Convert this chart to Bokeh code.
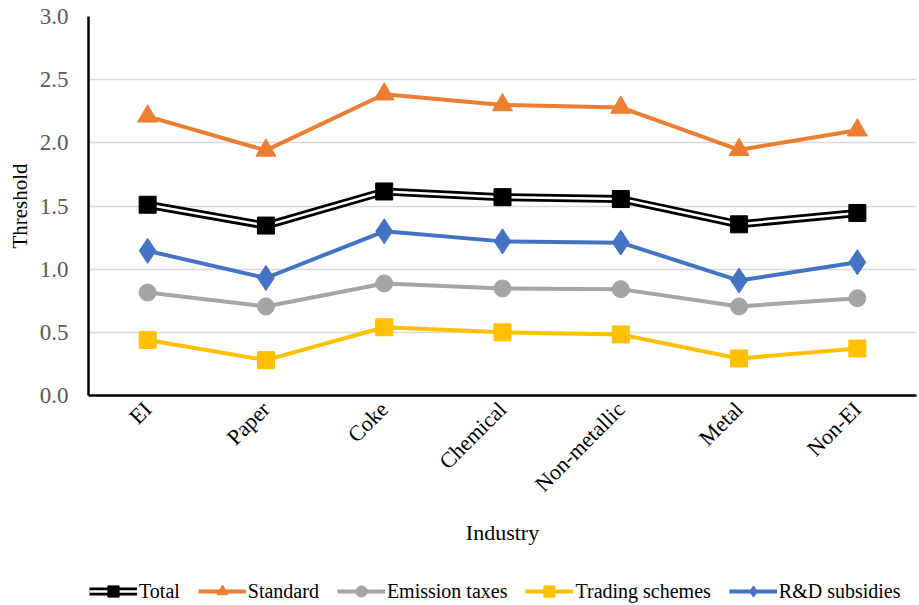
import math
from bokeh.plotting import figure
from bokeh.layouts import column
from bokeh.models import Legend, LegendItem, FixedTicker, Range1d, CustomJSTickFormatter
from bokeh.embed import file_html
from bokeh.resources import INLINE

industries = ["EI", "Paper", "Coke", "Chemical", "Non-metallic", "Metal", "Non-EI"]
total = [1.51, 1.345, 1.615, 1.57, 1.555, 1.355, 1.445]
standard = [2.21, 1.94, 2.385, 2.30, 2.28, 1.945, 2.10]
emission_taxes = [0.815, 0.705, 0.887, 0.847, 0.842, 0.705, 0.77]
trading_schemes = [0.44, 0.28, 0.54, 0.50, 0.483, 0.293, 0.372]
rd_subsidies = [1.145, 0.93, 1.30, 1.22, 1.21, 0.91, 1.055]
y_ticks = [0.0, 0.5, 1.0, 1.5, 2.0, 2.5, 3.0]

FONT = "Liberation Serif"

p = figure(x_range=industries, frame_width=828, frame_height=379, output_backend="svg",
           toolbar_location=None, min_border_left=88, min_border_right=3,
           min_border_top=16, min_border_bottom=170)
p.y_range = Range1d(0, 3.0)
p.outline_line_color = None
p.background_fill_color = "white"

p.xgrid.grid_line_color = None
p.ygrid.grid_line_color = "#d9d9d9"
p.ygrid.grid_line_width = 1.3

p.yaxis.ticker = FixedTicker(ticks=y_ticks)
p.yaxis.formatter = CustomJSTickFormatter(code="return tick.toFixed(1);")
p.yaxis.major_tick_line_color = None
p.yaxis.major_tick_out = 0
p.yaxis.major_tick_in = 0
p.yaxis.minor_tick_line_color = None
p.yaxis.axis_line_color = "black"
p.yaxis.axis_line_width = 2.5
p.yaxis.major_label_text_font = FONT
p.yaxis.major_label_text_font_size = "23px"
p.yaxis.major_label_text_color = "#595959"
p.yaxis.major_label_standoff = 20
p.yaxis.axis_label = "Threshold"
p.yaxis.axis_label_text_font = FONT
p.yaxis.axis_label_text_font_size = "21px"
p.yaxis.axis_label_text_font_style = "normal"
p.yaxis.axis_label_text_color = "black"
p.yaxis.axis_label_standoff = 5

p.xaxis.major_tick_line_color = None
p.xaxis.major_tick_out = 0
p.xaxis.major_tick_in = 0
p.xaxis.minor_tick_line_color = None
p.xaxis.axis_line_color = "black"
p.xaxis.axis_line_width = 2.5
p.xaxis.major_label_orientation = math.pi / 4
p.xaxis.major_label_text_font = FONT
p.xaxis.major_label_text_font_size = "22px"
p.xaxis.major_label_text_color = "black"
p.xaxis.major_label_standoff = 10
p.xaxis.axis_label = "Industry"
p.xaxis.axis_label_text_font = FONT
p.xaxis.axis_label_text_font_size = "22px"
p.xaxis.axis_label_text_font_style = "normal"
p.xaxis.axis_label_text_color = "black"
p.xaxis.axis_label_standoff = 12


def draw(fig):
    x = industries
    s_l = fig.line(x, standard, line_color="#ED7D31", line_width=4)
    s_m = fig.scatter(x, standard, marker="triangle", size=20, fill_color="#ED7D31", line_color="#ED7D31")
    t_o = fig.line(x, total, line_color="black", line_width=8)
    t_i = fig.line(x, total, line_color="white", line_width=2.5)
    t_m = fig.scatter(x, total, marker="square", size=17, fill_color="black", line_color="black")
    r_l = fig.line(x, rd_subsidies, line_color="#4472C4", line_width=4)
    r_m = fig.scatter(x, rd_subsidies, marker="diamond", size=25, fill_color="#4472C4", line_color="#4472C4")
    e_l = fig.line(x, emission_taxes, line_color="#A5A5A5", line_width=4)
    e_m = fig.scatter(x, emission_taxes, marker="circle", size=17, fill_color="#A5A5A5", line_color="#A5A5A5")
    tr_l = fig.line(x, trading_schemes, line_color="#FFC000", line_width=4)
    tr_m = fig.scatter(x, trading_schemes, marker="square", size=17, fill_color="#FFC000", line_color="#FFC000")
    return [
        ("Total", [t_o, t_i, t_m]),
        ("Standard", [s_l, s_m]),
        ("Emission taxes", [e_l, e_m]),
        ("Trading schemes", [tr_l, tr_m]),
        ("R&D subsidies", [r_l, r_m]),
    ]


draw(p)

# Legend strip below the chart (its frame is aligned with the chart's frame)
lg = figure(x_range=industries, width=919, height=40, output_backend="svg",
            toolbar_location=None, min_border=0, min_border_left=0,
            min_border_right=0, x_axis_location=None, y_axis_location=None)
lg.y_range = Range1d(100, 101)
lg.outline_line_color = None
lg.xgrid.grid_line_color = None
lg.ygrid.grid_line_color = None
items = draw(lg)

legend = Legend(items=[LegendItem(label=l, renderers=r) for l, r in items],
                orientation="horizontal", location=(1, 0))
legend.label_text_font = FONT
legend.label_text_font_size = "20px"
legend.label_text_color = "black"
legend.glyph_width = 48
legend.glyph_height = 28
legend.label_standoff = 2
legend.spacing = 18
legend.border_line_color = None
legend.background_fill_alpha = 0
legend.margin = 0
legend.padding = 0
lg.add_layout(legend, "center")

open("out.html", "w").write(file_html(column(p, lg, spacing=0), INLINE))
